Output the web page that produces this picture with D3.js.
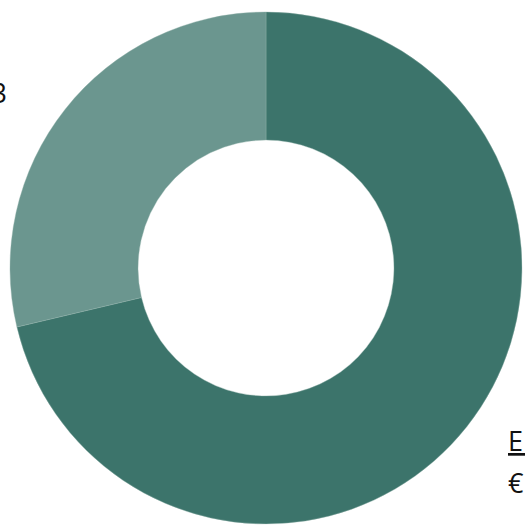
<!DOCTYPE html>
<html>
<head>
<meta charset="utf-8">
<script src="https://cdn.jsdelivr.net/npm/d3@7"></script>
<style>
  html, body { margin: 0; padding: 0; background: #fff; overflow: hidden; }
  svg { display: block; }
</style>
</head>
<body>
<svg id="chart" width="525" height="527"></svg>
<script>
const categories = ["Equity", "Other"];
const values = [71.3, 28.7];
const colors = ["#3c746b", "#6b968f"];
const labelNames = ["E  ", ""];
const labelAmounts = ["€  ", "€ 28,3"];

const svg = d3.select("#chart");
const cx = 266, cy = 268, rOuter = 256, rInner = 128;

const pie = d3.pie().sort(null).value(d => d.value);
const data = categories.map((c, i) => ({ name: c, value: values[i], color: colors[i] }));
const arcs = pie(data);
const arc = d3.arc().innerRadius(rInner).outerRadius(rOuter);

const g = svg.append("g").attr("transform", `translate(${cx},${cy})`);
g.selectAll("path").data(arcs).join("path")
  .attr("d", arc)
  .attr("fill", d => d.data.color)
  .attr("stroke", "#8fb0aa")
  .attr("stroke-width", 0.4);

const font = "'Open Sans', 'Noto Sans', sans-serif";

// Right label (dark slice), partly clipped by frame
const right = svg.append("text")
  .attr("font-family", font).attr("font-size", 27).attr("fill", "#111")
  .attr("xml:space", "preserve");
right.append("tspan").attr("x", 508).attr("y", 451)
  .attr("text-decoration", "underline").text(labelNames[0]);
right.append("tspan").attr("x", 508).attr("y", 493).text(labelAmounts[0]);

// Left label (light slice), partly clipped by frame
svg.append("text")
  .attr("font-family", font).attr("font-size", 27).attr("fill", "#111")
  .attr("text-anchor", "end")
  .attr("x", 7).attr("y", 103)
  .text(labelAmounts[1]);
</script>
</body>
</html>
